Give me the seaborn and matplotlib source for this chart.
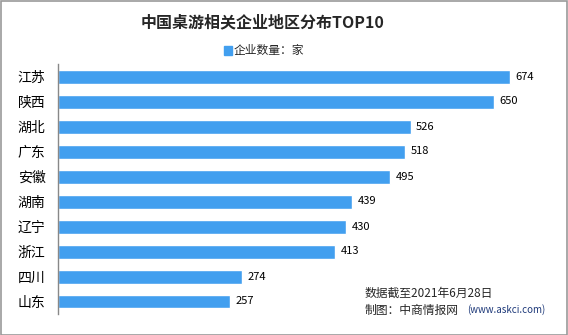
import matplotlib
matplotlib.use("Agg")
import matplotlib.pyplot as plt
import seaborn as sns
import pandas as pd
import numpy as np

categories = ["江苏", "陕西", "湖北", "广东", "安徽", "湖南", "辽宁", "浙江", "四川", "山东"]
values = [674, 650, 526, 518, 495, 439, 430, 413, 274, 257]
title = "中国桌游相关企业地区分布TOP10"
series_name = "企业数量：家"

sns.set_theme(style="white")
plt.rcParams['font.family'] = ['Noto Sans CJK SC', 'DejaVu Sans']

df = pd.DataFrame({"region": categories, "count": values})

W, H = 568, 335
fig = plt.figure(figsize=(W / 100, H / 100), dpi=100)
ax = fig.add_axes([58 / W, 1 - 314 / H, 503 / W, 250 / H])

color = "#429FEF"
sns.barplot(data=df, y="region", x="count", orient="h", color=color,
            width=0.56, ax=ax, saturation=1)
ax.set_xlim(0, 750)
ax.set_ylim(len(categories) - 0.5, -0.5)
ax.set_xlabel("")
ax.set_ylabel("")
ax.set_xticks([])
for s in ["top", "right", "bottom"]:
    ax.spines[s].set_visible(False)
ax.spines["left"].set_color("#888888")
ax.spines["left"].set_linewidth(1)
ax.tick_params(axis="y", which="major", length=0, labelsize=10, pad=9, labelcolor="#000000")
ax.set_yticks(np.arange(-0.5, len(categories), 1), minor=True)
ax.tick_params(axis="y", which="minor", length=4, color="#888888", width=1)

for i, v in enumerate(values):
    ax.text(v + 8, i, str(v), va="center", ha="left", fontsize=8, color="#000000")

fig.text(263 / W, 1 - 22 / H, title, ha="center", va="center", fontsize=11.5, fontweight="bold")
# legend
fig.patches.append(matplotlib.patches.Rectangle((224 / W, 1 - 55 / H), 8 / W, 9 / H,
                                                transform=fig.transFigure, color=color))
fig.text(234 / W, 1 - 50 / H, series_name, ha="left", va="center", fontsize=8.5)

fig.text(365 / W, 1 - 293 / H, "数据截至2021年6月28日", ha="left", va="center", fontsize=8.5)
fig.text(365 / W, 1 - 310 / H, "制图：中商情报网", ha="left", va="center", fontsize=8.5)
fig.text(467 / W, 1 - 310 / H, "(www.askci.com)", ha="left", va="center", fontsize=7, color="#1F3A7A")

# border
fig.patches.append(matplotlib.patches.Rectangle((0.5 / W, 0.5 / H), 1 - 1.5 / W, 1 - 1.5 / H,
                                                transform=fig.transFigure, fill=False,
                                                edgecolor="#999999", linewidth=1.2))

fig.savefig("out.png", dpi=100)
